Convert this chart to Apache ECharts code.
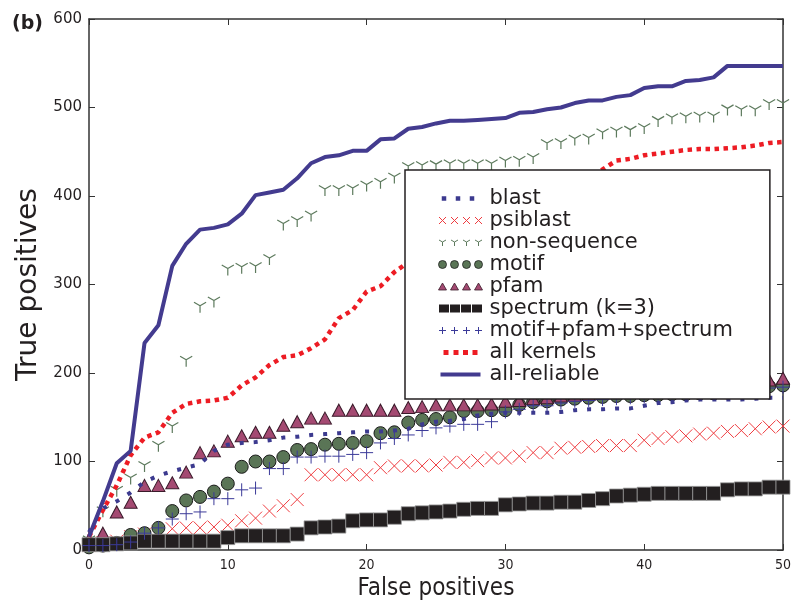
<!DOCTYPE html>
<html>
<head>
<meta charset="utf-8">
<script src="https://cdn.jsdelivr.net/npm/echarts@6/dist/echarts.min.js"></script>
<style>
  html, body { margin: 0; padding: 0; background: #fff; }
  #chart { width: 795px; height: 606px; }
</style>
</head>
<body>
<div id="chart"></div>
<script>
// false positives (x) shared by every curve
const falsePos = [0, 1, 2, 3, 4, 5, 6, 7, 8, 9, 10, 11, 12, 13, 14, 15, 16, 17, 18, 19, 20,
  21, 22, 23, 24, 25, 26, 27, 28, 29, 30, 31, 32, 33, 34, 35, 36, 37, 38, 39, 40,
  41, 42, 43, 44, 45, 46, 47, 48, 49, 50];

// true positives per method
const blast = [20, 47, 55, 65, 77, 84, 89, 93, 97, 112, 119, 121, 122, 124, 127, 128, 130, 131, 132, 133,
  134, 134, 135, 137, 142, 145, 146, 148, 152, 154, 155, 155, 155, 155, 156, 158, 159, 159, 160, 160,
  163, 166, 167, 169, 170, 170, 170, 170, 171, 172, 172];
const psiblast = [5, 8, 10, 15, 18, 20, 24, 25, 25, 26, 28, 33, 36, 44, 50, 57, 85, 85, 85, 85,
  85, 93, 95, 95, 95, 96, 99, 99, 101, 104, 104, 106, 110, 110, 115, 116, 117, 118, 118, 118,
  124, 126, 128, 129, 131, 132, 134, 135, 137, 139, 140];
const nonSequence = [12, 45, 68, 82, 96, 119, 140, 215, 276, 282, 318, 320, 321, 330, 369, 373, 379, 408, 408, 409,
  413, 416, 422, 434, 435, 436, 437, 437, 437, 437, 440, 441, 444, 460, 461, 465, 466, 472, 474, 475,
  478, 486, 489, 490, 491, 491, 499, 498, 498, 505, 505];
const motif = [3, 5, 8, 17, 19, 25, 44, 56, 60, 66, 75, 94, 100, 100, 105, 113, 114, 119, 120, 121,
  123, 132, 133, 144, 147, 148, 150, 157, 157, 158, 158, 164, 167, 168, 170, 171, 172, 173, 174, 174,
  175, 175, 176, 176, 177, 177, 178, 180, 183, 185, 186];
const pfam = [12, 19, 43, 54, 73, 73, 76, 88, 110, 112, 123, 129, 133, 133, 141, 145, 149, 149, 158, 158,
  158, 158, 158, 161, 162, 164, 164, 164, 164, 165, 168, 169, 171, 172, 174, 175, 176, 177, 178, 179,
  180, 181, 182, 183, 184, 185, 186, 187, 189, 192, 194];
const spectrum = [6, 6, 7, 8, 10, 10, 10, 10, 10, 10, 14, 16, 16, 16, 16, 18, 25, 26, 27, 33,
  34, 34, 37, 41, 42, 43, 44, 46, 47, 47, 51, 52, 53, 53, 54, 54, 56, 58, 61, 62,
  63, 64, 64, 64, 64, 64, 68, 69, 69, 71, 71];
const motifPfamSpectrum = [5, 5, 6, 9, 19, 25, 35, 41, 43, 58, 58, 68, 70, 92, 92, 105, 105, 106, 106, 108,
  110, 121, 126, 130, 135, 138, 140, 142, 142, 145, 156, 159, 163, 163, 166, 168, 169, 170, 171, 172,
  173, 173, 174, 175, 176, 177, 178, 179, 181, 183, 184];
const allKernels = [15, 45, 73, 107, 127, 133, 155, 165, 168, 169, 172, 186, 195, 209, 218, 220, 228, 238, 262, 271,
  292, 298, 314, 325, 335, 343, 350, 357, 364, 372, 380, 388, 395, 402, 410, 416, 422, 430, 440, 442,
  446, 448, 450, 452, 453, 453, 454, 455, 457, 460, 461];
const allReliable = [15, 55, 98, 112, 234, 254, 321, 346, 362, 364, 368, 380, 401, 404, 407, 420, 437, 444, 446, 451,
  451, 464, 465, 476, 478, 482, 485, 485, 486, 487, 488, 494, 495, 498, 500, 505, 508, 508, 512, 514,
  522, 524, 524, 530, 531, 534, 547, 547, 547, 547, 547];

const xTicks = [0, 10, 20, 30, 40, 50];
const yTicks = [0, 100, 200, 300, 400, 500, 600];

const TXT = '#231f20';
const C = {
  blast: '#3c3a8f',
  psiblast: '#ee3b3f',
  nonseq: '#5d7a5d',
  motif: '#5a7556',
  pfam: '#a44a72',
  spectrum: '#231f20',
  mps: '#3b3a99',
  allKernels: '#ed1c24',
  allReliable: '#433b8f'
};

// marker shapes (matplotlib x, +, tri_down)
const X_PATH = 'path://M0 0L10 10M10 0L0 10';
const PLUS_PATH = 'path://M5 0L5 10M0 5L10 5';
const TRI_DOWN_PATH = 'path://M5 5L5 10M5 5L0.67 2.5M5 5L9.33 2.5M5 0';

// legend swatches: four repeated markers in a 44x10 box
const BOX = 'M0 0M44 10';
function repeat(fn) { return [4, 16, 28, 40].map(fn).join(''); }
const LEG = {
  blast: 'path://M3.25 2.75h4.5v4.5h-4.5zM17.25 2.75h4.5v4.5h-4.5zM31.25 2.75h4.5v4.5h-4.5z' + BOX,
  psiblast: 'path://' + repeat(c => `M${c - 3.5} 1.5L${c + 3.5} 8.5M${c + 3.5} 1.5L${c - 3.5} 8.5`) + BOX,
  nonseq: 'path://' + repeat(c => `M${c} 4.5L${c} 8.5M${c} 4.5L${c - 3.5} 2.5M${c} 4.5L${c + 3.5} 2.5`) + BOX,
  motif: 'path://' + repeat(c => `M${c - 4} 5a4 4 0 1 0 8 0a4 4 0 1 0 -8 0z`) + BOX,
  pfam: 'path://' + repeat(c => `M${c - 4} 8.5L${c} 1.5L${c + 4} 8.5z`) + BOX,
  spectrum: 'path://' + [0.5, 11.5, 22.5, 33.5].map(x => `M${x} 1h10v8h-10z`).join('') + BOX,
  mps: 'path://' + repeat(c => `M${c} 1.5L${c} 8.5M${c - 3.5} 5L${c + 3.5} 5`) + BOX,
  allKernels: 'path://M5 2.5h5v5h-5zM15 2.5h5v5h-5zM24.5 2.5h5v5h-5zM34 2.5h5v5h-5z' + BOX,
  allReliable: 'path://M2 3h40v4h-40z' + BOX
};

function pairs(vals) {
  return vals.map((v, i) => [falsePos[i], v]);
}

// scatter default opacity is 0.8 — matplotlib markers are opaque
function scatter(name, vals, symbol, size, style) {
  return {
    name, type: 'scatter', data: pairs(vals),
    symbol, symbolSize: size, symbolKeepAspect: true,
    itemStyle: Object.assign({ opacity: 1 }, style)
  };
}

const chart = echarts.init(document.getElementById('chart'));

const axisCommon = {
  type: 'value',
  axisLine: { show: true, onZero: false, lineStyle: { color: '#333', width: 1.5 } },
  axisTick: { show: true, inside: true, length: 6, lineStyle: { color: '#333', width: 1 } },
  splitLine: { show: false }
};

chart.setOption({
  animation: false,
  title: {
    text: '(b)', left: 7, top: 10,
    textStyle: { fontSize: 19, fontWeight: 'bold', color: TXT, fontFamily: 'DejaVu Sans' }
  },
  grid: { left: 89, right: 12, top: 19, bottom: 56, containLabel: false, outerBoundsMode: 'none' },
  xAxis: [
    Object.assign({}, axisCommon, {
      position: 'bottom', min: xTicks[0], max: xTicks[xTicks.length - 1], interval: 10,
      name: 'False positives', nameLocation: 'middle', nameGap: 20,
      nameTextStyle: { fontSize: 24, color: TXT, fontFamily: 'DejaVu Sans Condensed, DejaVu Sans' },
      axisLabel: { fontSize: 14, color: TXT, margin: 8, fontFamily: 'DejaVu Sans Condensed, DejaVu Sans' }
    }),
    Object.assign({}, axisCommon, {
      position: 'top', min: xTicks[0], max: xTicks[xTicks.length - 1], interval: 10,
      axisLabel: { show: false }
    })
  ],
  yAxis: [
    Object.assign({}, axisCommon, {
      position: 'left', min: yTicks[0], max: yTicks[yTicks.length - 1], interval: 100,
      name: 'True positives', nameLocation: 'middle', nameGap: 40,
      nameTextStyle: { fontSize: 28, color: TXT, fontFamily: 'DejaVu Sans' },
      axisLabel: { fontSize: 15, color: TXT, margin: 7, fontFamily: 'DejaVu Sans' }
    }),
    Object.assign({}, axisCommon, {
      position: 'right', min: yTicks[0], max: yTicks[yTicks.length - 1], interval: 100,
      axisLabel: { show: false }
    })
  ],
  legend: {
    orient: 'vertical', left: 405, top: 170,
    padding: [18, 37, 14, 31],
    itemWidth: 48, itemHeight: 10, itemGap: 1,
    symbolKeepAspect: true, selectedMode: false,
    backgroundColor: '#fff', borderColor: '#231f20', borderWidth: 1.5, borderRadius: 0,
    textStyle: { fontSize: 21, color: TXT, fontFamily: 'DejaVu Sans' },
    data: [
      { name: 'blast', icon: LEG.blast, itemStyle: { color: C.blast, borderWidth: 0, opacity: 1 } },
      { name: 'psiblast', icon: LEG.psiblast, itemStyle: { color: 'none', borderColor: C.psiblast, borderWidth: 1, opacity: 1 } },
      { name: 'non-sequence', icon: LEG.nonseq, itemStyle: { color: 'none', borderColor: C.nonseq, borderWidth: 1, opacity: 1 } },
      { name: 'motif', icon: LEG.motif, itemStyle: { color: C.motif, borderColor: '#222', borderWidth: 0.8, opacity: 1 } },
      { name: 'pfam', icon: LEG.pfam, itemStyle: { color: C.pfam, borderColor: '#3a1a2a', borderWidth: 0.8, opacity: 1 } },
      { name: 'spectrum (k=3)', icon: LEG.spectrum, itemStyle: { color: C.spectrum, borderWidth: 0, opacity: 1 } },
      { name: 'motif+pfam+spectrum', icon: LEG.mps, itemStyle: { color: 'none', borderColor: C.mps, borderWidth: 1, opacity: 1 } },
      { name: 'all kernels', icon: LEG.allKernels, itemStyle: { color: C.allKernels, borderWidth: 0, opacity: 1 } },
      { name: 'all-reliable', icon: LEG.allReliable, itemStyle: { color: C.allReliable, borderWidth: 0, opacity: 1 } }
    ]
  },
  series: [
    {
      name: 'blast', type: 'line', data: pairs(blast), symbol: 'none', showSymbol: false,
      lineStyle: { color: C.blast, width: 4, type: [4, 10], cap: 'butt' }, itemStyle: { color: C.blast }
    },
    scatter('psiblast', psiblast, X_PATH, 13, { color: C.psiblast, borderColor: C.psiblast, borderWidth: 1 }),
    scatter('non-sequence', nonSequence, TRI_DOWN_PATH, 14, { color: C.nonseq, borderColor: C.nonseq, borderWidth: 1.2 }),
    scatter('motif', motif, 'circle', 13, { color: C.motif, borderColor: '#1a1a1a', borderWidth: 1 }),
    scatter('pfam', pfam, 'triangle', [13, 12], { color: C.pfam, borderColor: '#3a1a2a', borderWidth: 1 }),
    scatter('spectrum (k=3)', spectrum, 'rect', 14, { color: C.spectrum, borderColor: '#9a9a9a', borderWidth: 0.8 }),
    scatter('motif+pfam+spectrum', motifPfamSpectrum, PLUS_PATH, 13, { color: C.mps, borderColor: C.mps, borderWidth: 1 }),
    {
      name: 'all kernels', type: 'line', data: pairs(allKernels), symbol: 'none', showSymbol: false,
      lineStyle: { color: C.allKernels, width: 4.5, type: [4.5, 4.5], cap: 'butt' }, itemStyle: { color: C.allKernels }
    },
    {
      name: 'all-reliable', type: 'line', data: pairs(allReliable), symbol: 'none', showSymbol: false,
      lineStyle: { color: C.allReliable, width: 4 }, itemStyle: { color: C.allReliable }
    }
  ]
});
</script>
</body>
</html>
